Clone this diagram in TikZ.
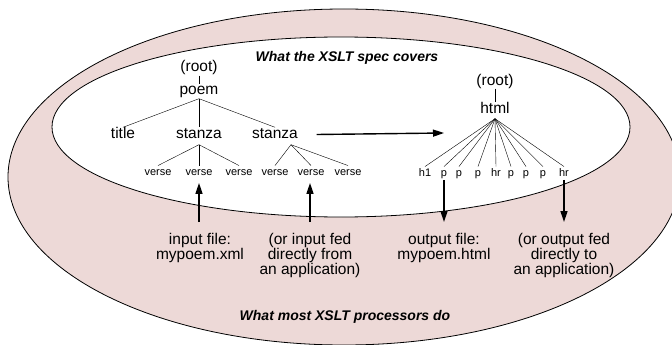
\documentclass[tikz,border=0pt]{standalone}
\usepackage{fontspec}
\setmainfont{Liberation Sans}
\usetikzlibrary{arrows.meta}
\definecolor{procpink}{RGB}{237,217,215}

\tikzset{
	word/.style={anchor=base, inner sep=1.5pt, text height=9pt, text depth=2pt, font=\fontsize{15.5}{15}\selectfont},
	small/.style={anchor=base, inner sep=1pt, text height=8.25pt, text depth=2.75pt, font=\fontsize{11}{12}\selectfont},
	caption/.style={anchor=base, font=\fontsize{14}{15}\selectfont\bfseries\itshape},
	note/.style={anchor=north, align=center, inner sep=0pt, font=\fontsize{15.5}{15}\selectfont},
	feed/.style={line width=1.4pt, -{Triangle[length=11pt,width=7pt]}}
}

\begin{document}
\begin{tikzpicture}[x=1pt,y=-1pt]
				\useasboundingbox (0,0) rectangle (672,345);
				\clip (0,0) rectangle (672,345);
				
				% what most processors do
				\filldraw[fill=procpink, line width=0.8pt] (344,177) ellipse (336 and 168);
				% what the spec covers
				\filldraw[fill=white, line width=0.8pt] (341,127) ellipse (289 and 90);
				
				\node[caption] (spec) at (347,62) {What the XSLT spec covers};
				\node[caption] (proc) at (345,320) {What most XSLT processors do};
				
				% input tree
				\node[word] (rootA) at (199,72) {(root)};
				\node[word] (poem) at (199,95) {poem};
				\draw (rootA) -- (poem);
				\foreach \n/\t/\x in
				{title/title/123, stA/stanza/199, stB/stanza/275}{
					\node[word] (\n) at (\x,138) {\t};
					\draw (poem.south) -- (\n.north);
				}
				\foreach \n/\x in
				{vA/158, vB/199, vC/239}{
					\node[small] (\n) at (\x,175) {verse};
					\draw ([yshift=-3pt]stA.south) -- (\n.north);
				}
				\foreach \n/\x in
				{vD/275, vE/311, vF/348}{
					\node[small] (\n) at (\x,175) {verse};
					\draw ([xshift=16pt,yshift=-3pt]stB.south) -- (\n.north);
				}
				
				% output tree
				\node[word] (rootB) at (495,85) {(root)};
				\node[word] (html) at (495,113) {html};
				\draw (rootB) -- (html);
				\foreach \n/\t/\x in
				{lA/h1/425, lB/p/444, lC/p/459, lD/p/478, lE/hr/496, lF/p/511, lG/p/526, lH/p/543, lI/hr/564}{
					\node[small] (\n) at (\x,176) {\t};
					\draw ([yshift=-2pt]html.south) -- (\n.north);
				}
				
				% transformation
				\coordinate (xsl) at (444,133);
				\draw[feed] ([xshift=17pt]stB.east) -- (xsl);
				
				% where input comes from, where output goes
				\node[note] (inA) at (200,233) {input file:\\mypoem.xml};
				\node[note] (inB) at (310,233) {(or input fed\\directly from\\an application)};
				\node[note] (outA) at (444,233) {output file:\\mypoem.html};
				\node[note] (outB) at (564,233) {(or output fed\\directly to\\an application)};
				
				\draw[feed, shorten <=11pt, shorten >=4pt] (inA.north -| vB) -- (vB);
				\draw[feed, shorten <=11pt, shorten >=4pt] (inB) -- (inB |- vE.south);
				\draw[feed, shorten >=11pt] (lB) -- (outA);
				\draw[feed, shorten >=11pt] (lI) -- (outB);
			\end{tikzpicture}
\end{document}
